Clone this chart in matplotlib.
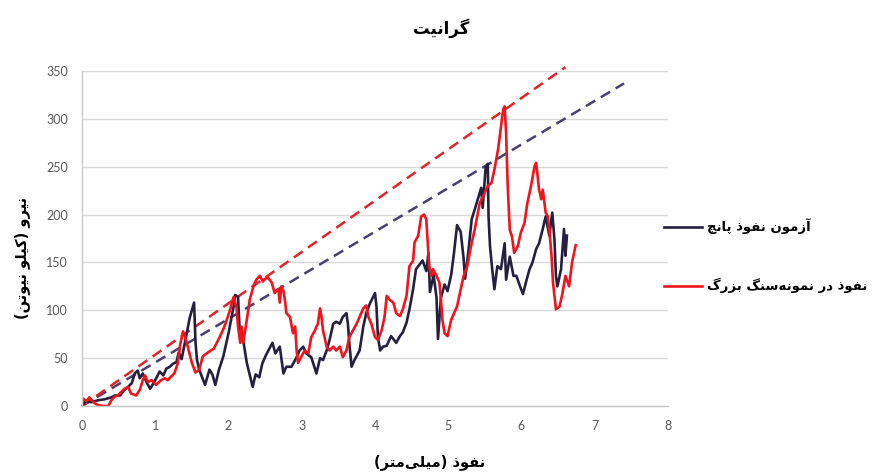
import matplotlib
matplotlib.use("Agg")
import matplotlib.pyplot as plt

# Titles and series names (logical order, shaped for display below)
title_text = "گرانیت"
xlabel_text = "نفوذ (میلی‌متر)"
ylabel_text = "نیرو (کیلو نیوتن)"
punch_name = "آزمون نفوذ پانچ"
block_name = "نفوذ در نمونه‌سنگ بزرگ"

x_ticks = [0, 1, 2, 3, 4, 5, 6, 7, 8]
y_ticks = [0, 50, 100, 150, 200, 250, 300, 350]

# Punch penetration test: penetration (mm) vs force (kN)
punch_x = [0, 0.05, 0.13, 0.22, 0.31, 0.40, 0.45, 0.52, 0.57, 0.63, 0.68, 0.72, 0.76, 0.79,
           0.83, 0.88, 0.93, 0.97, 1.02, 1.06, 1.11, 1.15, 1.2, 1.24, 1.29, 1.32, 1.36, 1.42,
           1.47, 1.53, 1.55, 1.57, 1.6, 1.64, 1.68, 1.74, 1.78, 1.82, 1.87, 1.93, 2.0, 2.07,
           2.09, 2.13, 2.15, 2.2, 2.25, 2.33, 2.37, 2.42, 2.46, 2.51, 2.6, 2.64, 2.7, 2.75,
           2.79, 2.86, 2.93, 2.97, 3.02, 3.06, 3.13, 3.2, 3.25, 3.29, 3.34, 3.38, 3.43, 3.47,
           3.52, 3.56, 3.61, 3.63, 3.65, 3.68, 3.72, 3.79, 3.84, 3.88, 3.93, 4.0, 4.02, 4.04,
           4.07, 4.11, 4.16, 4.22, 4.29, 4.34, 4.38, 4.43, 4.47, 4.52, 4.56, 4.61, 4.65, 4.7,
           4.73, 4.75, 4.8, 4.84, 4.86, 4.9, 4.95, 4.99, 5.04, 5.08, 5.12, 5.17, 5.21, 5.23,
           5.27, 5.32, 5.38, 5.45, 5.47, 5.51, 5.54, 5.55, 5.57, 5.6, 5.63, 5.67, 5.72, 5.77,
           5.79, 5.84, 5.89, 5.93, 5.98, 6.02, 6.07, 6.11, 6.15, 6.2, 6.24, 6.29, 6.33, 6.38,
           6.42, 6.45, 6.47, 6.49, 6.54, 6.58, 6.6, 6.62]
punch_y = [0, 5, 4, 6, 7, 9, 11, 11, 16, 20, 24, 34, 37, 29,
           34, 25, 18, 23, 30, 36, 32, 39, 41, 44, 46, 56, 49, 72,
           92, 108, 66, 48, 38, 30, 22, 38, 33, 22, 38, 52, 76, 104,
           116, 114, 83, 69, 45, 20, 33, 30, 44, 53, 66, 55, 62, 34,
           41, 41, 51, 58, 62, 55, 51, 34, 50, 48, 58, 69, 86, 88,
           86, 93, 97, 86, 65, 41, 48, 58, 83, 97, 107, 118, 104, 72,
           58, 62, 63, 73, 66, 73, 77, 87, 101, 122, 143, 148, 152, 141,
           160, 119, 137, 113, 70, 113, 127, 120, 137, 161, 189, 182, 154, 133,
           158, 195, 210, 228, 207, 249, 253, 198, 167, 143, 122, 146, 143, 170,
           132, 156, 136, 136, 125, 117, 132, 143, 150, 164, 170, 185, 198, 178,
           202, 174, 136, 125, 143, 185, 157, 178]

# Penetration into the large rock block
block_x = [0, 0.01, 0.06, 0.1, 0.17, 0.22, 0.29, 0.36, 0.4, 0.45, 0.49, 0.54, 0.58, 0.63,
           0.67, 0.74, 0.79, 0.83, 0.86, 0.9, 0.95, 1.01, 1.08, 1.13, 1.17, 1.22, 1.26, 1.31,
           1.34, 1.38, 1.41, 1.45, 1.5, 1.55, 1.6, 1.65, 1.72, 1.8, 1.88, 1.95, 2.02, 2.07,
           2.11, 2.13, 2.16, 2.18, 2.2, 2.25, 2.29, 2.34, 2.38, 2.43, 2.47, 2.5, 2.54, 2.59,
           2.63, 2.68, 2.7, 2.72, 2.75, 2.77, 2.79, 2.84, 2.88, 2.91, 2.93, 2.95, 2.99, 3.04,
           3.09, 3.13, 3.18, 3.22, 3.25, 3.27, 3.29, 3.34, 3.38, 3.43, 3.47, 3.52, 3.56, 3.61,
           3.65, 3.7, 3.75, 3.79, 3.84, 3.88, 3.91, 3.95, 4.0, 4.04, 4.09, 4.13, 4.16, 4.2,
           4.25, 4.29, 4.34, 4.38, 4.43, 4.47, 4.52, 4.54, 4.59, 4.61, 4.63, 4.67, 4.7, 4.72,
           4.74, 4.77, 4.79, 4.84, 4.88, 4.9, 4.92, 4.95, 4.99, 5.04, 5.08, 5.12, 5.17, 5.21,
           5.26, 5.3, 5.36, 5.43, 5.5, 5.54, 5.59, 5.63, 5.68, 5.72, 5.75, 5.77, 5.79, 5.81,
           5.84, 5.87, 5.9, 5.95, 5.99, 6.04, 6.08, 6.13, 6.18, 6.2, 6.22, 6.24, 6.27, 6.29,
           6.33, 6.36, 6.38, 6.41, 6.43, 6.45, 6.47, 6.52, 6.56, 6.6, 6.65, 6.69, 6.74]
block_y = [0, 8, 5, 9, 3, 1, 0, 0, 6, 10, 11, 15, 18, 20,
           13, 11, 17, 27, 32, 25, 27, 22, 27, 29, 27, 31, 34, 45,
           64, 78, 72, 60, 45, 35, 38, 52, 56, 60, 72, 84, 100, 114,
           103, 83, 66, 83, 66, 90, 111, 125, 132, 136, 130, 133, 134, 129,
           118, 122, 108, 125, 120, 111, 97, 93, 76, 83, 58, 45, 51, 58,
           55, 72, 79, 86, 102, 93, 79, 62, 58, 62, 58, 62, 51, 58,
           72, 79, 86, 93, 102, 105, 93, 86, 72, 69, 79, 93, 115, 111,
           108, 97, 94, 101, 115, 146, 152, 171, 178, 188, 198, 200, 195, 171,
           146, 136, 143, 136, 129, 111, 90, 76, 73, 90, 97, 104, 122, 136,
           146, 163, 184, 212, 223, 230, 233, 247, 268, 292, 310, 313, 285, 233,
           184, 177, 160, 167, 181, 191, 212, 230, 251, 254, 240, 226, 216, 226,
           202, 198, 184, 157, 129, 115, 101, 104, 118, 136, 125, 150, 168]

# Envelope lines through the origin
block_env_x = [0, 6.6]
block_env_y = [0, 354]
punch_env_x = [0, 7.4]
punch_env_y = [0, 337]

NAVY = "#262040"
NAVY_DASH = "#4a3f70"
RED = "#f0141c"
RED_DASH = "#e0242a"

# Arabic presentation forms: isolated, final, initial, medial
DUAL = {
    "ب": (0xFE8F, 0xFE90, 0xFE91, 0xFE92), "پ": (0xFB56, 0xFB57, 0xFB58, 0xFB59),
    "ت": (0xFE95, 0xFE96, 0xFE97, 0xFE98), "چ": (0xFB7A, 0xFB7B, 0xFB7C, 0xFB7D),
    "س": (0xFEB1, 0xFEB2, 0xFEB3, 0xFEB4), "ف": (0xFED1, 0xFED2, 0xFED3, 0xFED4),
    "ک": (0xFB8E, 0xFB8F, 0xFB90, 0xFB91), "گ": (0xFB92, 0xFB93, 0xFB94, 0xFB95),
    "ل": (0xFEDD, 0xFEDE, 0xFEDF, 0xFEE0), "م": (0xFEE1, 0xFEE2, 0xFEE3, 0xFEE4),
    "ن": (0xFEE5, 0xFEE6, 0xFEE7, 0xFEE8), "ه": (0xFEE9, 0xFEEA, 0xFEEB, 0xFEEC),
    "ی": (0xFBFC, 0xFBFD, 0xFBFE, 0xFBFF),
}
RIGHT = {
    "ا": (0xFE8D, 0xFE8E), "آ": (0xFE81, 0xFE82), "د": (0xFEA9, 0xFEAA),
    "ذ": (0xFEAB, 0xFEAC), "ر": (0xFEAD, 0xFEAE), "ز": (0xFEAF, 0xFEB0),
    "و": (0xFEED, 0xFEEE),
}


def farsi(text):
    """Shape Persian text and put it in visual (left-to-right) order."""
    out = []
    for i, ch in enumerate(text):
        prev = text[i - 1] if i > 0 else ""
        nxt = text[i + 1] if i + 1 < len(text) else ""
        if ch in DUAL:
            a = prev in DUAL
            b = nxt in DUAL or nxt in RIGHT
            idx = 3 if (a and b) else 1 if a else 2 if b else 0
            out.append(chr(DUAL[ch][idx]))
        elif ch in RIGHT:
            out.append(chr(RIGHT[ch][1 if prev in DUAL else 0]))
        elif ch == "\u200c":
            continue
        else:
            out.append({"(": ")", ")": "("}.get(ch, ch))
    return "".join(reversed(out))


def main():
    fig = plt.figure(figsize=(8.82, 4.75), dpi=100)
    ax = fig.add_axes([82 / 882, 1 - 406 / 475, 586 / 882, 335 / 475])

    ax.plot(punch_env_x, punch_env_y, color=NAVY_DASH, lw=1.8, dashes=(4.3, 2.6), clip_on=False)
    ax.plot(block_env_x, block_env_y, color=RED_DASH, lw=1.8, dashes=(4.3, 2.6), clip_on=False)
    ax.plot(punch_x, punch_y, color=NAVY, lw=1.9, label=farsi(punch_name))
    ax.plot(block_x, block_y, color=RED, lw=1.9, label=farsi(block_name))

    ax.set_xlim(0, 8)
    ax.set_ylim(0, 350)
    ax.set_xticks(x_ticks)
    ax.set_yticks(y_ticks)
    ax.tick_params(length=0, labelsize=9, labelcolor="#595959", pad=10)
    for lbl in ax.get_xticklabels() + ax.get_yticklabels():
        lbl.set_fontfamily("Lato")

    ax.grid(axis="y", color="#d9d9d9", lw=1)
    ax.set_axisbelow(True)
    for side in ("top", "right"):
        ax.spines[side].set_visible(False)
    for side in ("left", "bottom"):
        ax.spines[side].set_color("#c8c8c8")
        ax.spines[side].set_linewidth(1)

    fig.text(441 / 882, 1 - 28 / 475, farsi(title_text), ha="center", va="center",
             fontsize=12, fontweight="bold", family="DejaVu Sans")
    fig.text(430 / 882, 1 - 462 / 475, farsi(xlabel_text), ha="center", va="center",
             fontsize=10.5, fontweight="bold", family="DejaVu Sans")
    fig.text(22 / 882, 1 - 258 / 475, farsi(ylabel_text), ha="center", va="center",
             rotation=90, fontsize=10.5, fontweight="bold", family="DejaVu Sans")

    fig.legend(loc="center left", bbox_to_anchor=(652 / 882, 1 - 256 / 475),
               frameon=False, handlelength=2.9, handletextpad=0.4, labelspacing=3.3,
               prop={"family": "DejaVu Sans", "weight": "bold", "size": 9.5})

    fig.savefig("out.png", dpi=100)
    plt.close(fig)


if __name__ == "__main__":
    main()
